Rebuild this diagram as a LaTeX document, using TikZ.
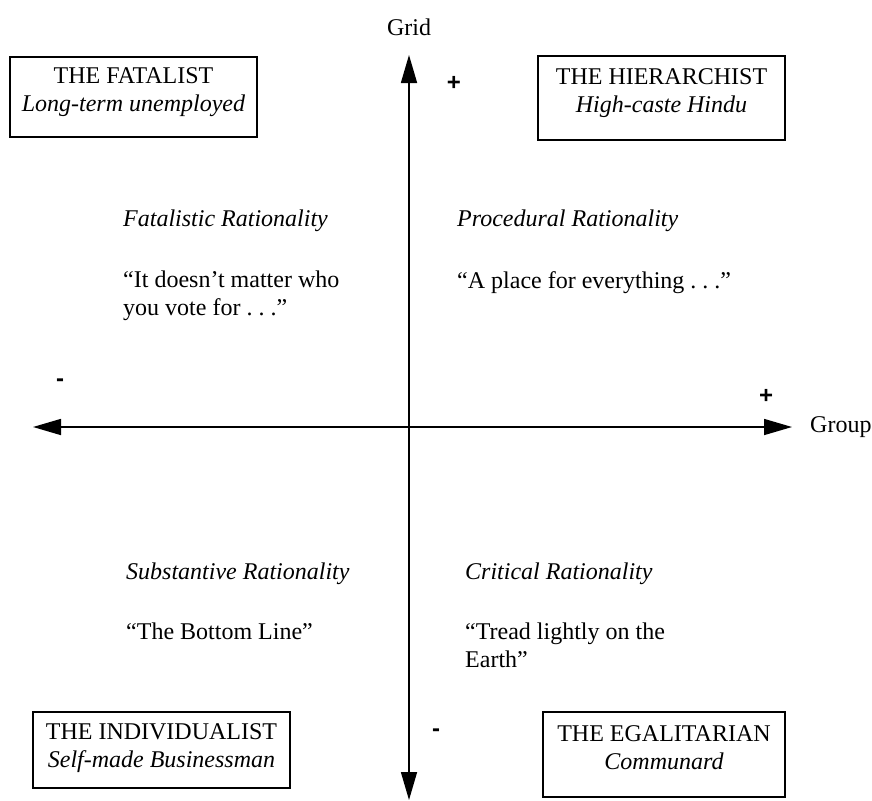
\documentclass[tikz,border=0pt]{standalone}
\usepackage{fontspec}
\setmainfont{Liberation Serif}
\newfontfamily\signfont{Liberation Sans}
\usetikzlibrary{arrows.meta}
\begin{document}
\begin{tikzpicture}[x=1pt,y=-1pt,
  every node/.style={font=\fontsize{24}{28}\selectfont, inner sep=0pt},
  axis/.style={line width=1.6pt, -{Triangle[length=28pt,width=16pt]}},
  box/.style={draw, line width=1.5pt, minimum width=#1},
  boxtext/.style={align=center},
  qtext/.style={anchor=base west, align=left},
  sign/.style={font=\fontsize{24}{28}\signfont\bfseries}
]
\useasboundingbox (0,0) rectangle (872,800);
% axes
\coordinate (top) at (409,55);
\coordinate (bot) at (409,800);
\coordinate (left) at (33,427);
\coordinate (right) at (792,427);
\coordinate (vmid) at (409,427);
\draw[axis] (vmid) -- (top);
\draw[axis] (vmid) -- (bot);
\draw[axis] (vmid) -- (left);
\draw[axis] (vmid) -- (right);
\node (grid) at (409,27) {Grid};
\node[anchor=west] (group) at (810,427) {Group};
\node[sign] (gp) at (454,83) {+};
\node[sign] (gm) at (436,733) {-};
\node[sign] (hm) at (60,383) {-};
\node[sign] (hp) at (766,396) {+};
% boxes
\node[box=247pt, minimum height=80pt] (fat) at (133.5,97) {};
\node[boxtext] (fatt) at (133.5,92) {THE FATALIST\\\textit{Long-term unemployed}};
\node[box=247pt, minimum height=84pt] (hie) at (661.5,98) {};
\node[boxtext] (hiet) at (661.5,93) {THE HIERARCHIST\\\textit{High-caste Hindu}};
\node[box=257pt, minimum height=76pt] (ind) at (161.5,750) {};
\node[boxtext] (indt) at (161.5,748.5) {THE INDIVIDUALIST\\\textit{Self-made Businessman}};
\node[box=242pt, minimum height=85pt] (ega) at (664,754.5) {};
\node[boxtext] (egat) at (664,748) {THE EGALITARIAN\\\textit{Communard}};
% quadrant texts
\node[qtext] (fr) at (123,226) {\textit{Fatalistic Rationality}};
\node[qtext] (frq) at (123,315) {“It doesn’t matter who\\you vote for .\ .\ .”};
\node[qtext] (pr) at (457,226) {\textit{Procedural Rationality}};
\node[qtext] (prq) at (457,288) {“A place for everything .\ .\ .”};
\node[qtext] (sr) at (126,579) {\textit{Substantive Rationality}};
\node[qtext] (srq) at (126,639) {“The Bottom Line”};
\node[qtext] (cr) at (465,579) {\textit{Critical Rationality}};
\node[qtext] (crq) at (465,667) {“Tread lightly on the\\Earth”};
\end{tikzpicture}
\end{document}
